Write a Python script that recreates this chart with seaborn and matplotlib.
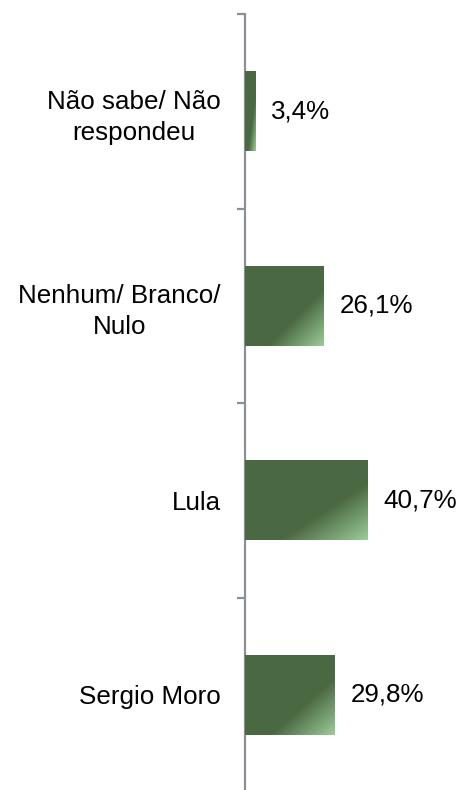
import matplotlib
matplotlib.use('Agg')
import matplotlib.pyplot as plt
import numpy as np
import pandas as pd
import seaborn as sns
from matplotlib.colors import LinearSegmentedColormap

CATEGORIES = ['Não sabe/ Não\nrespondeu', 'Nenhum/ Branco/\nNulo', 'Lula', 'Sergio Moro']
VALUES = [3.4, 26.1, 40.7, 29.8]

DPI = 100
FONT_PT = 26 * 72 / DPI
DARK = '#4A6842'
LIGHT = '#9CCD99'
AXIS_GREY = '#8A9099'


def px(n):
    # pixels to points
    return n * 72 / DPI


def gradient_fill(ax, bar, cmap):
    x0, y0 = bar.get_x(), bar.get_y()
    w, h = bar.get_width(), bar.get_height()
    uu, vv = np.meshgrid(np.linspace(0, 1, 400), np.linspace(0, 1, 400))
    t = np.clip(((uu + vv) / 2 - 0.64) / 0.36, 0, 1)
    im = ax.imshow(t, cmap=cmap, vmin=0, vmax=1, aspect='auto', interpolation='nearest',
                   extent=[x0, x0 + w, y0 + h, y0], origin='upper', zorder=3)
    im.set_clip_path(bar)


def main():
    df = pd.DataFrame({'cat': CATEGORIES, 'val': VALUES})

    sns.set_style('white')
    plt.rcParams['font.family'] = ['Liberation Sans', 'DejaVu Sans']

    fig = plt.figure(figsize=(462 / DPI, 790 / DPI), dpi=DPI)
    ax = fig.add_axes([245 / 462, -2 / 790, 210 / 462, 778 / 790])

    sns.barplot(data=df, x='val', y='cat', orient='h', color=DARK, saturation=1,
                width=0.41, linewidth=0, ax=ax)

    cmap = LinearSegmentedColormap.from_list('bar', [DARK, LIGHT])
    for bar in list(ax.patches):
        gradient_fill(ax, bar, cmap)

    for i, v in enumerate(VALUES):
        ax.annotate(f'{v:.1f}%'.replace('.', ','), xy=(v, i), xytext=(px(16), 0),
                    textcoords='offset points', va='center', ha='left',
                    fontsize=FONT_PT, color='black')

    ax.set_xlim(0, 70)
    ax.set_ylim(3.5, -0.5)
    ax.set_xlabel('')
    ax.set_ylabel('')
    ax.set_xticks([])

    for side in ['top', 'right', 'bottom']:
        ax.spines[side].set_visible(False)
    ax.spines['left'].set_color(AXIS_GREY)
    ax.spines['left'].set_linewidth(px(2.2))

    ax.set_yticks(np.arange(-0.5, 4, 1), minor=True)
    ax.tick_params(axis='y', which='minor', length=px(8), width=px(2.2), color=AXIS_GREY, left=True)
    ax.tick_params(axis='y', which='major', length=0, pad=px(24), labelsize=FONT_PT, labelcolor='black')
    for lab in ax.get_yticklabels():
        lab.set_multialignment('center')
        lab.set_linespacing(1.38)

    fig.savefig('out.png', dpi=DPI)


if __name__ == '__main__':
    main()
